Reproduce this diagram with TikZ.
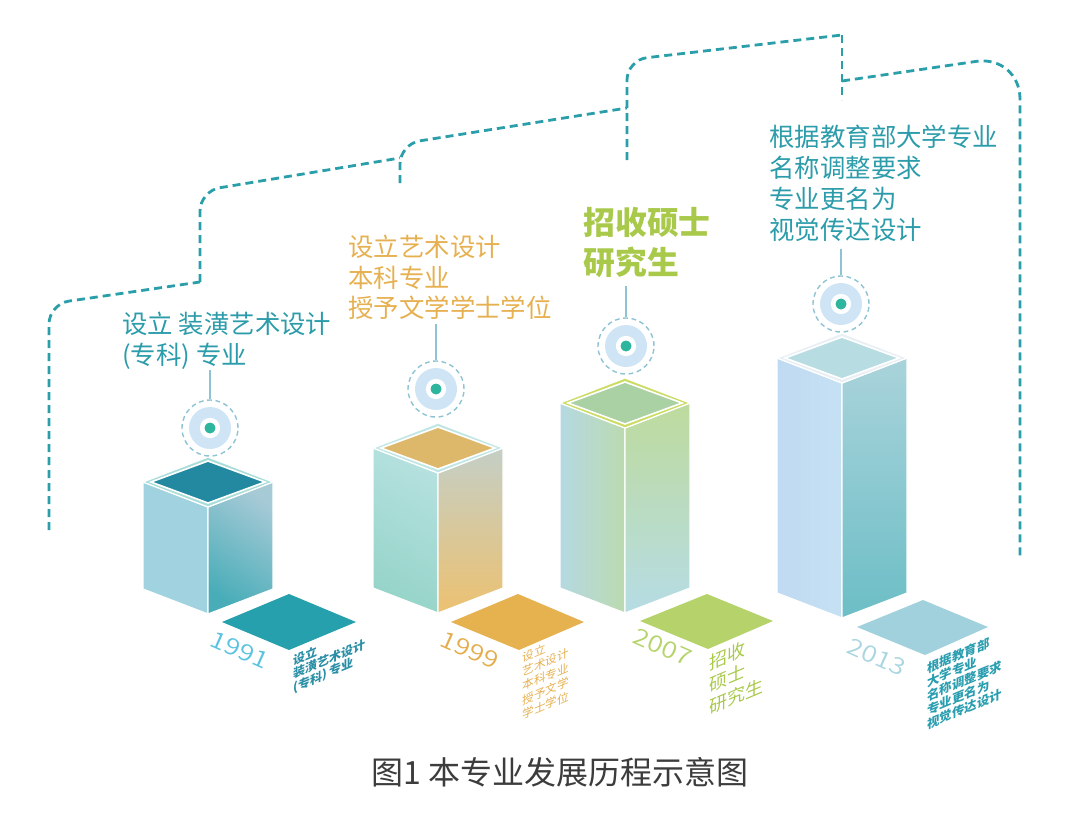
\documentclass[tikz,border=0pt]{standalone}
\usepackage{fontspec}
\setmainfont{Noto Sans CJK SC}
\newfontfamily\yearfont{Noto Sans CJK SC DemiLight}
\usetikzlibrary{positioning}

\definecolor{lineteal}{HTML}{2A9FAA}
\definecolor{ringblue}{HTML}{8EC3D3}
\definecolor{diskblue}{HTML}{CFE5F6}
\definecolor{dotgreen}{HTML}{2DB59E}
\definecolor{txtteal}{HTML}{2C9CAA}
\definecolor{txtgold}{HTML}{E6B050}
\definecolor{txtgreen}{HTML}{A9C94B}
\definecolor{capgray}{HTML}{3C3C3C}
\definecolor{yrone}{HTML}{5BC3E0}
\definecolor{yrtwo}{HTML}{E4AE4E}
\definecolor{yrthree}{HTML}{B6D46C}
\definecolor{yrfour}{HTML}{A9D6E0}
\definecolor{tileone}{HTML}{26A0AC}
\definecolor{tiletwo}{HTML}{E5B24F}
\definecolor{tilethree}{HTML}{B5D36A}
\definecolor{tilefour}{HTML}{A0D1DC}
\definecolor{smteal}{HTML}{2A8FA6}
\definecolor{smtealb}{HTML}{2A9EB0}

\begin{document}
\begin{tikzpicture}[x=0.5pt, y=-0.5pt,
timeline/.style={draw=lineteal, line width=1.4pt, dash pattern=on 4pt off 2.5pt},
facet/.style={draw=white, line width=0.6pt},
ring/.style={circle, draw=ringblue, line width=0.7pt, dash pattern=on 2.4pt off 1.8pt, minimum size=28pt, inner sep=0pt},
disk/.style={circle, fill=diskblue, minimum size=21pt, inner sep=0pt},
dot/.style={circle, fill=dotgreen, draw=white, line width=2.3pt, minimum size=7.8pt, inner sep=0pt},
stem/.style={draw=ringblue, line width=0.7pt},
label/.style={anchor=north west, inner sep=0pt, align=left, font=\fontsize{12.7pt}{15.2pt}\selectfont},
year/.style={font=\yearfont\fontsize{11.5pt}{11.5pt}\selectfont, rotate=-24, xscale=1.2, inner sep=0pt},
floortext/.style={anchor=north west, inner sep=0pt, align=left, yslant=0.42}]
\useasboundingbox (0,0) rectangle (1071,819);

% stepped time line
\draw[timeline, rounded corners=10pt] (49,530) -- (49,304) -- (200,282);
\draw[timeline, rounded corners=10pt] (200,282) -- (200,191) -- (400,158);
\draw[timeline, rounded corners=10pt] (400,183) -- (400,144) -- (627,108);
\draw[timeline, rounded corners=10pt] (627,160) -- (627,60) -- (842,35);
\draw[timeline] (842,35) -- (842,100);
\draw[timeline, rounded corners=22pt] (842,81) -- (1020,55) -- (1020,560);

% box 1991
\begin{scope}[shift={(208,507)}]
\fill[facet, fill={rgb,255:red,160;green,211;blue,223}] (-65,-25) -- (0,0) -- (0,107) -- (-65,82) -- cycle;
\shade[facet, top color={rgb,255:red,166;green,202;blue,214}, middle color={rgb,255:red,61;green,170;blue,182}, bottom color={rgb,255:red,72;green,173;blue,184}, shading angle=-35] (0,0) -- (65,-25) -- (65,82) -- (0,107) -- cycle;
\fill[facet, fill={rgb,255:red,169;green,221;blue,217}] (-65,-25) -- (0,-50) -- (65,-25) -- (0,0) -- cycle;
\fill[facet, line width=0.8pt, fill={rgb,255:red,35;green,137;blue,160}] (-57,-25) -- (0,-46) -- (57,-25) -- (0,-4) -- cycle;
\end{scope}

% box 1999
\begin{scope}[shift={(438,473)}]
\shade[facet, top color={rgb,255:red,181;green,225;blue,223}, bottom color={rgb,255:red,150;green,212;blue,201}, shading angle=-30] (-65,-25) -- (0,0) -- (0,140) -- (-65,115) -- cycle;
\shade[facet, top color={rgb,255:red,196;green,207;blue,198}, middle color={rgb,255:red,226;green,199;blue,138}, bottom color={rgb,255:red,236;green,193;blue,113}] (0,0) -- (65,-25) -- (65,115) -- (0,140) -- cycle;
\fill[facet, fill={rgb,255:red,192;green,230;blue,228}] (-65,-25) -- (0,-50) -- (65,-25) -- (0,0) -- cycle;
\fill[facet, line width=0.8pt, fill={rgb,255:red,221;green,184;blue,107}] (-57,-25) -- (0,-46) -- (57,-25) -- (0,-4) -- cycle;
\end{scope}

% box 2007
\begin{scope}[shift={(625,428)}]
\shade[facet, left color={rgb,255:red,181;green,217;blue,226}, right color={rgb,255:red,187;green,218;blue,176}] (-65,-25) -- (0,0) -- (0,185) -- (-65,160) -- cycle;
\shade[facet, top color={rgb,255:red,190;green,219;blue,157}, bottom color={rgb,255:red,182;green,220;blue,229}] (0,0) -- (65,-25) -- (65,160) -- (0,185) -- cycle;
\fill[facet, fill={rgb,255:red,202;green,220;blue,98}] (-65,-25) -- (0,-50) -- (65,-25) -- (0,0) -- cycle;
\fill[facet, line width=0.8pt, fill={rgb,255:red,170;green,209;blue,164}] (-57,-25) -- (0,-46) -- (57,-25) -- (0,-4) -- cycle;
\end{scope}

% box 2013
\begin{scope}[shift={(842,383)}]
\shade[facet, left color={rgb,255:red,191;green,218;blue,242}, right color={rgb,255:red,198;green,224;blue,243}] (-65,-25) -- (0,0) -- (0,235) -- (-65,210) -- cycle;
\shade[facet, top color={rgb,255:red,170;green,211;blue,219}, middle color={rgb,255:red,117;green,193;blue,201}, bottom color={rgb,255:red,108;green,190;blue,198}] (0,0) -- (65,-25) -- (65,210) -- (0,235) -- cycle;
\fill[facet, fill={rgb,255:red,232;green,239;blue,245}] (-65,-25) -- (0,-50) -- (65,-25) -- (0,0) -- cycle;
\fill[facet, line width=0.8pt, fill={rgb,255:red,183;green,220;blue,226}] (-57,-25) -- (0,-46) -- (57,-25) -- (0,-4) -- cycle;
\end{scope}

% floor tiles
\fill[tileone] (222,622) -- (289,594) -- (356,622) -- (289,650) -- cycle;
\fill[tiletwo] (451,622) -- (518,594) -- (584,622) -- (519,650) -- cycle;
\fill[tilethree] (640,621) -- (707,594) -- (773,621) -- (708,649) -- cycle;
\fill[tilefour] (857,627) -- (923,600) -- (988,627) -- (925,655) -- cycle;

% years
\node[year, text=yrone] (y1991) at (240,650) {1991};
\node[year, text=yrtwo] (y1999) at (470,650) {1999};
\node[year, text=yrthree] (y2007) at (663,647) {2007};
\node[year, text=yrfour] (y2013) at (877,657) {2013};

% text on the floor
\node[floortext, text=smteal, font=\bfseries\fontsize{6pt}{6.6pt}\selectfont] (f1991) at (293,655) {设立\\装潢艺术设计\\(专科) 专业};
\node[floortext, text=txtgold, font=\fontsize{5.8pt}{7.2pt}\selectfont] (f1999) at (522,652) {设立\\艺术设计\\本科专业\\授予文学\\学士学位};
\node[floortext, text=txtgreen, font=\fontsize{9pt}{11pt}\selectfont] (f2007) at (709,655) {招收\\硕士\\研究生};
\node[floortext, text=smtealb, font=\bfseries\fontsize{6.2pt}{7pt}\selectfont] (f2013) at (927,662) {根据教育部\\大学专业\\名称调整要求\\专业更名为\\视觉传达设计};

% markers
\node[ring] (m1) at (210,428) {};
\node[disk] (m1d) at (m1) {};
\node[dot] (m1c) at (m1) {};
\node[ring] (m2) at (436,389) {};
\node[disk] (m2d) at (m2) {};
\node[dot] (m2c) at (m2) {};
\node[ring] (m3) at (626,346) {};
\node[disk] (m3d) at (m3) {};
\node[dot] (m3c) at (m3) {};
\node[ring] (m4) at (841,304) {};
\node[disk] (m4d) at (m4) {};
\node[dot] (m4c) at (m4) {};

% labels
\node[label, text=txtteal] (lab1) at (122,312) {设立 装潢艺术设计\\(专科) 专业};
\node[label, text=txtgold] (lab2) at (348,235) {设立艺术设计\\本科专业\\授予文学学士学位};
\node[label, text=txtgreen, font=\bfseries\fontsize{15.9pt}{20pt}\selectfont] (lab3) at (583,207) {招收硕士\\研究生};
\node[label, text=txtteal, font=\fontsize{12.7pt}{15.5pt}\selectfont] (lab4) at (769,125) {根据教育部大学专业\\名称调整要求\\专业更名为\\视觉传达设计};
\draw[stem] (lab1.south -| m1) -- (m1.north);
\draw[stem, shorten <=2pt] (lab2.south -| m2) -- (m2.north);
\draw[stem, shorten <=4pt] (lab3.south -| m3) -- (m3.north);
\draw[stem, shorten <=3pt] (lab4.south -| m4) -- (m4.north);

% caption
\node[text=capgray, font=\fontsize{16pt}{16pt}\selectfont] (cap) at (560,772) {图1 本专业发展历程示意图};
\end{tikzpicture}
\end{document}
